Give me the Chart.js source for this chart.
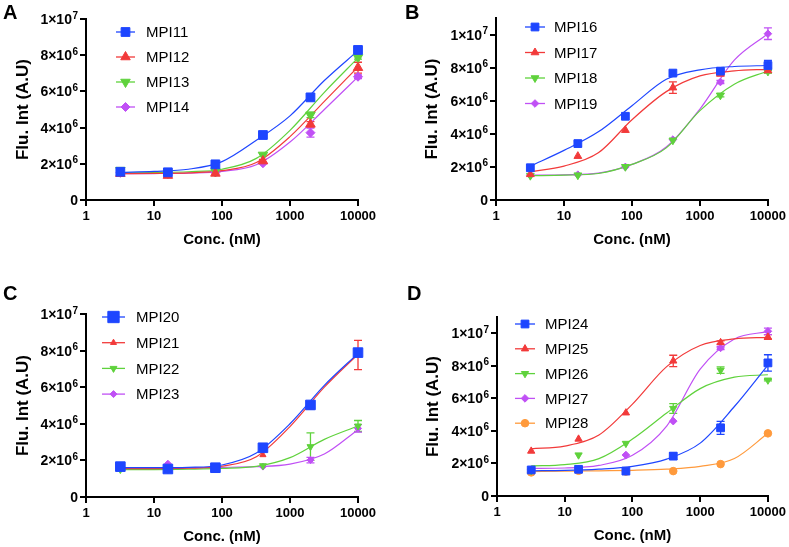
<!DOCTYPE html>
<html>
<head>
<meta charset="utf-8">
<script src="https://cdn.jsdelivr.net/npm/chart.js@4.4.1/dist/chart.umd.min.js"></script>
<style>
  body { margin: 0; background: #fff; }
  #wrap { position: relative; width: 789px; height: 547px; }
  .panel { position: absolute; }
</style>
</head>
<body>
<div id="wrap">
  <div class="panel" style="left:0;top:0;width:395px;height:270px"><canvas id="chartA"></canvas></div>
  <div class="panel" style="left:395px;top:0;width:394px;height:270px"><canvas id="chartB"></canvas></div>
  <div class="panel" style="left:0;top:270px;width:395px;height:277px"><canvas id="chartC"></canvas></div>
  <div class="panel" style="left:395px;top:270px;width:394px;height:277px"><canvas id="chartD"></canvas></div>
</div>
<script>
// concentrations (nM) of the measured points and of the fitted curves
const conc = [3.2, 16, 80, 400, 2000, 10000];
const fitConc = [3.2, 10, 32, 100, 320, 1000, 3200, 10000];

// x / y axis ticks (y in units of 10^6), y labels as mantissa + exponent
const xTicks = [1, 10, 100, 1000, 10000];
const yTicks = [0, 2, 4, 6, 8, 10];
const yTickBase = ['0', '2×10', '4×10', '6×10', '8×10', '1×10'];
const yTickExp = ['', '6', '6', '6', '6', '7'];

// Panel A
const mpi11 = [1.56, 1.53, 1.97, 3.59, 5.67, 8.29];
const mpi12 = [1.45, 1.35, 1.47, 2.15, 4.18, 7.31];
const mpi13 = [1.65, 1.50, 1.58, 2.49, 4.70, 7.88];
const mpi14 = [1.50, 1.45, 1.52, 2.03, 3.72, 6.81];
const err11 = [0, 0, 0, 0, 0.1, 0.1];
const err12 = [0, 0, 0, 0.1, 0.15, 0.3];
const err13 = [0, 0, 0, 0, 0.15, 0.1];
const err14 = [0, 0, 0, 0, 0.25, 0.1];
const fit11 = [1.53, 1.58, 1.70, 2.12, 3.30, 4.65, 6.60, 8.25];
const fit12 = [1.45, 1.47, 1.50, 1.62, 2.07, 3.50, 5.45, 7.35];
const fit13 = [1.50, 1.52, 1.56, 1.70, 2.30, 3.85, 5.95, 7.85];
const fit14 = [1.45, 1.46, 1.49, 1.58, 1.95, 3.20, 5.00, 6.80];

// Panel B
const mpi16 = [1.95, 3.41, 5.06, 7.67, 7.79, 8.13];
const mpi17 = [1.55, 2.65, 4.22, 6.79, 7.62, 7.83];
const mpi18 = [1.47, 1.50, 2.01, 3.61, 6.33, 7.77];
const mpi19 = [1.50, 1.53, 2.00, 3.65, 7.13, 10.05];
const err16 = [0, 0.15, 0, 0, 0.1, 0.3];
const err17 = [0, 0, 0, 0.35, 0.1, 0.15];
const err18 = [0, 0, 0, 0, 0.1, 0.1];
const err19 = [0, 0, 0, 0, 0.1, 0.35];
const fit16 = [2.05, 3.00, 4.12, 5.70, 7.30, 7.87, 8.07, 8.13];
const fit17 = [1.71, 2.05, 2.85, 4.85, 6.55, 7.50, 7.80, 7.90];
const fit18 = [1.47, 1.50, 1.60, 2.15, 3.15, 5.40, 7.00, 7.80];
const fit19 = [1.50, 1.52, 1.62, 2.15, 3.20, 5.50, 8.45, 10.05];

// Panel C
const mpi20 = [1.66, 1.53, 1.60, 2.69, 5.03, 7.89];
const mpi21 = [1.60, 1.50, 1.55, 2.30, 4.90, 7.76];
const mpi22 = [1.50, 1.50, 1.55, 1.71, 2.75, 3.88];
const mpi23 = [1.60, 1.82, 1.60, 1.66, 2.02, 3.75];
const err20 = [0, 0, 0, 0, 0.1, 0.1];
const err21 = [0, 0, 0, 0, 0.1, 0.8];
const err22 = [0, 0, 0, 0, 0.75, 0.3];
const err23 = [0, 0, 0, 0, 0.15, 0.2];
const fit20 = [1.60, 1.60, 1.62, 1.75, 2.40, 4.00, 6.10, 7.85];
const fit21 = [1.55, 1.55, 1.57, 1.68, 2.20, 3.85, 6.00, 7.80];
const fit22 = [1.50, 1.50, 1.52, 1.56, 1.67, 2.15, 3.15, 3.88];
const fit23 = [1.60, 1.60, 1.60, 1.62, 1.66, 1.80, 2.35, 3.68];

// Panel D
const mpi24 = [1.60, 1.64, 1.53, 2.45, 4.19, 8.18];
const mpi25 = [2.76, 3.50, 5.11, 8.30, 9.43, 9.77];
const mpi26 = [1.55, 2.52, 3.23, 5.38, 7.73, 7.12];
const mpi27 = [1.62, 1.66, 2.52, 4.60, 9.10, 10.12];
const mpi28 = [1.45, 1.55, 1.50, 1.53, 1.96, 3.85];
const err24 = [0, 0, 0, 0.2, 0.4, 0.5];
const err25 = [0, 0, 0, 0.35, 0.1, 0.15];
const err26 = [0, 0, 0, 0.3, 0.2, 0.05];
const err27 = [0, 0, 0, 0, 0.1, 0.2];
const err28 = [0, 0, 0, 0, 0, 0];
const fit24 = [1.55, 1.57, 1.65, 1.82, 2.27, 3.25, 5.50, 8.05];
const fit25 = [2.90, 3.07, 3.75, 5.65, 7.95, 9.25, 9.65, 9.75];
const fit26 = [1.85, 1.93, 2.30, 3.50, 5.10, 6.60, 7.30, 7.45];
const fit27 = [1.70, 1.72, 1.88, 2.50, 4.30, 7.80, 9.65, 10.10];
const fit28 = [1.50, 1.52, 1.55, 1.58, 1.65, 1.82, 2.30, 3.85];

const BLUE = '#1e46ff', RED = '#f23a3a', GREEN = '#5fd23c', PURPLE = '#c050f5', ORANGE = '#ff9a3c';
const FONT = '"Liberation Sans", Arial, Helvetica, sans-serif';

// error bars, y tick labels with exponents, legend and panel letter
const extras = {
  id: 'extras',
  beforeDatasetsDraw(chart) {
    const ctx = chart.ctx, xs = chart.scales.x, ys = chart.scales.y;
    chart.data.datasets.forEach(ds => {
      if (!ds.errors) return;
      ctx.save();
      ctx.strokeStyle = ds.borderColor;
      ctx.lineWidth = 1.3;
      ds.data.forEach((p, j) => {
        const e = ds.errors[j];
        if (!e) return;
        const x = xs.getPixelForValue(p.x);
        const y1 = ys.getPixelForValue(p.y - e), y2 = ys.getPixelForValue(p.y + e);
        ctx.beginPath();
        ctx.moveTo(x, y1); ctx.lineTo(x, y2);
        ctx.moveTo(x - 4, y1); ctx.lineTo(x + 4, y1);
        ctx.moveTo(x - 4, y2); ctx.lineTo(x + 4, y2);
        ctx.stroke();
      });
      ctx.restore();
    });
  },
  afterDraw(chart, args, opts) {
    const ctx = chart.ctx, area = chart.chartArea, ys = chart.scales.y;
    ctx.save();
    ctx.fillStyle = '#000';

    // y tick labels: "8×10" with a raised exponent
    ctx.textBaseline = 'alphabetic';
    ctx.textAlign = 'left';
    yTicks.forEach((v, i) => {
      const y = ys.getPixelForValue(v) + 5;
      ctx.font = 'bold 10px ' + FONT;
      const we = yTickExp[i] ? ctx.measureText(yTickExp[i]).width + 0.5 : 0;
      ctx.font = 'bold 14px ' + FONT;
      const wb = ctx.measureText(yTickBase[i]).width;
      const x = area.left - 8 - we - wb;
      ctx.fillText(yTickBase[i], x, y);
      if (yTickExp[i]) {
        ctx.font = 'bold 10px ' + FONT;
        ctx.fillText(yTickExp[i], x + wb + 0.5, y - 5.5);
      }
    });

    // panel letter
    ctx.font = 'bold 20px ' + FONT;
    ctx.fillText(opts.letter, opts.letterX, opts.letterY);

    // legend
    ctx.font = '15px ' + FONT;
    ctx.textBaseline = 'middle';
    opts.items.forEach((it, i) => {
      const y = area.top + opts.top + i * opts.gap;
      const x0 = area.left + opts.lineFrom, x1 = area.left + opts.lineTo;
      ctx.strokeStyle = it.color;
      ctx.lineWidth = 1.3;
      ctx.beginPath(); ctx.moveTo(x0, y); ctx.lineTo(x1, y); ctx.stroke();
      ctx.fillStyle = it.color;
      ctx.lineWidth = 1;
      Chart.helpers.drawPoint(ctx, {
        pointStyle: it.style, rotation: it.rotation || 0,
        radius: it.legendRadius || it.radius, borderWidth: 1
      }, (x0 + x1) / 2, y);
      ctx.fillStyle = '#000';
      ctx.fillText(it.label, area.left + opts.textX, y + 1);
    });
    ctx.restore();
  }
};

function makePanel(id, p) {
  const pointSets = p.series.map(s => ({
    label: s.label,
    data: conc.map((c, i) => ({ x: c, y: s.values[i] })),
    errors: s.errors,
    showLine: false,
    pointStyle: s.style,
    pointRotation: s.rotation || 0,
    pointRadius: s.radius,
    pointHoverRadius: s.radius,
    backgroundColor: s.color,
    borderColor: s.color,
    pointBorderWidth: 1,
    clip: false
  }));
  const fitSets = p.series.map(s => ({
    label: s.label + ' fit',
    data: fitConc.map((c, i) => ({ x: c, y: s.fit[i] })),
    showLine: true,
    pointRadius: 0,
    borderColor: s.color,
    borderWidth: 1.2,
    cubicInterpolationMode: 'monotone',
    clip: false
  }));
  return new Chart(document.getElementById(id), {
    type: 'scatter',
    data: { datasets: pointSets.concat(fitSets) },
    options: {
      responsive: true,
      maintainAspectRatio: false,
      animation: false,
      layout: { padding: p.padding },
      plugins: {
        legend: { display: false },
        tooltip: { enabled: false },
        extras: {
          letter: p.letter, letterX: p.letterX, letterY: p.letterY,
          items: p.series, top: p.legend.top, gap: p.legend.gap,
          lineFrom: p.legend.lineFrom, lineTo: p.legend.lineTo, textX: p.legend.textX
        }
      },
      scales: {
        x: {
          type: 'logarithmic',
          min: 1, max: 10000,
          afterBuildTicks: sc => { sc.ticks = xTicks.map(v => ({ value: v })); },
          afterFit: sc => { sc.height = 50; },
          ticks: {
            color: '#000', padding: 3,
            font: { family: FONT, size: 13, weight: 'bold' },
            callback: v => String(v)
          },
          grid: { drawOnChartArea: false, drawTicks: true, tickLength: 6, color: '#000', lineWidth: 2 },
          border: { display: true, color: '#000', width: 2 },
          title: {
            display: true, text: 'Conc. (nM)', color: '#000',
            padding: { top: 4, bottom: 1 },
            font: { family: FONT, size: 15, weight: 'bold' }
          }
        },
        y: {
          min: 0, max: p.yMax,
          afterBuildTicks: sc => { sc.ticks = yTicks.map(v => ({ value: v })); },
          afterFit: sc => { sc.width = p.yWidth; },
          ticks: {
            color: 'rgba(0,0,0,0)', padding: 2,
            font: { family: FONT, size: 13, weight: 'bold' },
            callback: v => yTickBase[yTicks.indexOf(v)]
          },
          grid: { drawOnChartArea: false, drawTicks: true, tickLength: 6, color: '#000', lineWidth: 2 },
          border: { display: true, color: '#000', width: 2 },
          title: {
            display: true, text: 'Flu. Int (A.U)', color: '#000',
            padding: { top: 3, bottom: 3 },
            font: { family: FONT, size: 17, weight: 'bold' }
          }
        }
      }
    },
    plugins: [extras]
  });
}

makePanel('chartA', {
  letter: 'A', letterX: 3, letterY: 19,
  padding: { left: 10, right: 37, top: 19, bottom: 20 }, yWidth: 76, yMax: 10,
  legend: { top: 13, gap: 25, lineFrom: 30, lineTo: 49, textX: 60 },
  series: [
    { label: 'MPI11', values: mpi11, errors: err11, fit: fit11, color: BLUE, style: 'rect', radius: 6.2 },
    { label: 'MPI12', values: mpi12, errors: err12, fit: fit12, color: RED, style: 'triangle', radius: 5.5 },
    { label: 'MPI13', values: mpi13, errors: err13, fit: fit13, color: GREEN, style: 'triangle', rotation: 180, radius: 5.5 },
    { label: 'MPI14', values: mpi14, errors: err14, fit: fit14, color: PURPLE, style: 'rectRot', radius: 4.5 }
  ]
});

makePanel('chartB', {
  letter: 'B', letterX: 10, letterY: 19,
  padding: { left: 24, right: 21, top: 18, bottom: 20 }, yWidth: 77, yMax: 11,
  legend: { top: 9, gap: 25.5, lineFrom: 29, lineTo: 49, textX: 58 },
  series: [
    { label: 'MPI16', values: mpi16, errors: err16, fit: fit16, color: BLUE, style: 'rect', radius: 5.5 },
    { label: 'MPI17', values: mpi17, errors: err17, fit: fit17, color: RED, style: 'triangle', radius: 4.5 },
    { label: 'MPI18', values: mpi18, errors: err18, fit: fit18, color: GREEN, style: 'triangle', rotation: 180, radius: 4.5 },
    { label: 'MPI19', values: mpi19, errors: err19, fit: fit19, color: PURPLE, style: 'rectRot', radius: 3.8 }
  ]
});

makePanel('chartC', {
  letter: 'C', letterX: 3, letterY: 30,
  padding: { left: 10, right: 37, top: 44, bottom: 0 }, yWidth: 76, yMax: 10,
  legend: { top: 3, gap: 25.7, lineFrom: 16, lineTo: 39, textX: 50 },
  series: [
    { label: 'MPI20', values: mpi20, errors: err20, fit: fit20, color: BLUE, style: 'rect', radius: 6.8, legendRadius: 8 },
    { label: 'MPI21', values: mpi21, errors: err21, fit: fit21, color: RED, style: 'triangle', radius: 3.5 },
    { label: 'MPI22', values: mpi22, errors: err22, fit: fit22, color: GREEN, style: 'triangle', rotation: 180, radius: 4 },
    { label: 'MPI23', values: mpi23, errors: err23, fit: fit23, color: PURPLE, style: 'rectRot', radius: 3.5 }
  ]
});

makePanel('chartD', {
  letter: 'D', letterX: 12, letterY: 30,
  padding: { left: 25, right: 20, top: 47, bottom: 1 }, yWidth: 77, yMax: 11,
  legend: { top: 7, gap: 24.8, lineFrom: 18, lineTo: 38, textX: 48 },
  series: [
    { label: 'MPI24', values: mpi24, errors: err24, fit: fit24, color: BLUE, style: 'rect', radius: 5.5 },
    { label: 'MPI25', values: mpi25, errors: err25, fit: fit25, color: RED, style: 'triangle', radius: 4.2 },
    { label: 'MPI26', values: mpi26, errors: err26, fit: fit26, color: GREEN, style: 'triangle', rotation: 180, radius: 4.2 },
    { label: 'MPI27', values: mpi27, errors: err27, fit: fit27, color: PURPLE, style: 'rectRot', radius: 3.8 },
    { label: 'MPI28', values: mpi28, errors: err28, fit: fit28, color: ORANGE, style: 'circle', radius: 3.8 }
  ]
});
</script>
</body>
</html>
